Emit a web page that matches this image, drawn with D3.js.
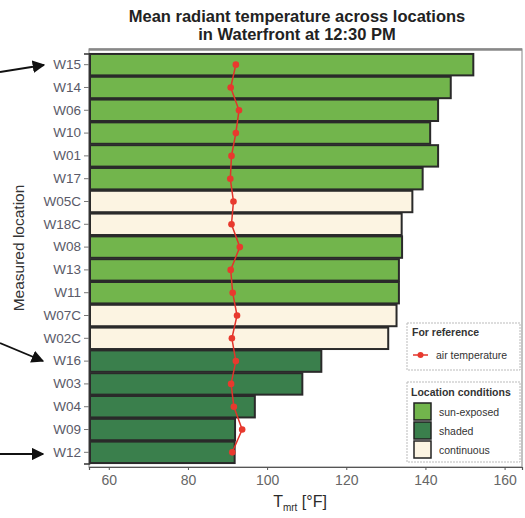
<!DOCTYPE html>
<html>
<head>
<meta charset="utf-8">
<script src="https://cdn.jsdelivr.net/npm/d3@7"></script>
<style>
  body { margin: 0; background: #fff; }
  text { font-family: "Liberation Sans", Arial, sans-serif; }
</style>
</head>
<body>
<svg id="chart"></svg>
<script>
var locations = ["W15", "W14", "W06", "W10", "W01", "W17", "W05C", "W18C", "W08",
                 "W13", "W11", "W07C", "W02C", "W16", "W03", "W04", "W09", "W12"];
var tmrt = [152.1, 146.4, 143.2, 141.2, 143.2, 139.3, 136.7, 134.0, 134.1,
            133.3, 133.3, 132.7, 130.6, 113.7, 108.9, 96.9, 91.9, 91.8];
var airTemp = [92.1, 90.8, 92.9, 92.1, 91.0, 90.7, 91.5, 91.0, 93.1,
               90.8, 91.3, 92.4, 91.1, 92.1, 90.9, 91.6, 93.7, 91.2];
var conditions = ["sun-exposed", "sun-exposed", "sun-exposed", "sun-exposed", "sun-exposed", "sun-exposed",
                  "continuous", "continuous", "sun-exposed", "sun-exposed", "sun-exposed",
                  "continuous", "continuous", "shaded", "shaded", "shaded", "shaded", "shaded"];
var conditionNames = ["sun-exposed", "shaded", "continuous"];
var xTicks = [60, 80, 100, 120, 140, 160];

var W = 525, H = 518;
var plotLeft = 89, plotRight = 522, plotTop = 49, plotBottom = 467;

var svg = d3.select("#chart").attr("width", W).attr("height", H);

var defs = svg.append("defs");
defs.append("marker").attr("id", "arrow")
  .attr("viewBox", "0 0 10 10").attr("refX", 9).attr("refY", 5)
  .attr("markerWidth", 7).attr("markerHeight", 7).attr("orient", "auto")
  .append("path").attr("d", "M0,0 L10,5 L0,10 z").attr("fill", "#111");

var x = d3.scaleLinear().domain([55, 164.4]).range([plotLeft, plotRight]);
var y = d3.scaleBand().domain(locations).range([53.5, 463.5]).paddingInner(0.06).paddingOuter(0.02);
var color = d3.scaleOrdinal().domain(conditionNames).range(["#72b54c", "#3a7f4c", "#fcf4e2"]);

var rows = locations.map(function (d, i) {
  return { name: d, tmrt: tmrt[i], air: airTemp[i], cond: conditions[i] };
});

// title
svg.append("text").attr("x", 297).attr("y", 22).attr("text-anchor", "middle")
  .attr("font-size", 16.5).attr("font-weight", "bold").attr("fill", "#222")
  .text("Mean radiant temperature across locations");
svg.append("text").attr("x", 297).attr("y", 40).attr("text-anchor", "middle")
  .attr("font-size", 16.5).attr("font-weight", "bold").attr("fill", "#222")
  .text("in Waterfront at 12:30 PM");

// plot frame
svg.append("rect").attr("x", plotLeft).attr("y", plotTop)
  .attr("width", plotRight - plotLeft).attr("height", plotBottom - plotTop)
  .attr("fill", "none").attr("stroke", "#999").attr("stroke-width", 1.2);
svg.append("line").attr("x1", plotLeft).attr("x2", plotRight).attr("y1", plotTop + 0.5).attr("y2", plotTop + 0.5)
  .attr("stroke", "#888").attr("stroke-width", 2.5);

// bars
svg.append("g").selectAll("rect").data(rows).enter().append("rect")
  .attr("x", x(55) + 1)
  .attr("y", function (d) { return y(d.name); })
  .attr("width", function (d) { return x(d.tmrt) - x(55) - 1; })
  .attr("height", y.bandwidth())
  .attr("fill", function (d) { return color(d.cond); })
  .attr("stroke", "#2a2a2a").attr("stroke-width", 2);

// air temperature line + markers
var line = d3.line()
  .x(function (d) { return x(d.air); })
  .y(function (d) { return y(d.name) + y.bandwidth() / 2; });
svg.append("path").datum(rows).attr("d", line)
  .attr("fill", "none").attr("stroke", "#e2332a").attr("stroke-width", 1.5);
svg.append("g").selectAll("circle").data(rows).enter().append("circle")
  .attr("cx", function (d) { return x(d.air); })
  .attr("cy", function (d) { return y(d.name) + y.bandwidth() / 2; })
  .attr("r", 3.3).attr("fill", "#e8392e");

// y axis
var yAxis = svg.append("g").attr("transform", "translate(" + plotLeft + ",0)")
  .call(d3.axisLeft(y).tickSize(5).tickPadding(3));
yAxis.select(".domain").attr("stroke", "#333").attr("stroke-width", 1.5);
yAxis.selectAll(".tick line").attr("stroke", "#777");
yAxis.selectAll(".tick text").attr("font-size", 13.5).attr("fill", "#5a5a68")
  .attr("font-family", "Liberation Sans, Arial, sans-serif");

// x axis
var xAxis = svg.append("g").attr("transform", "translate(0," + plotBottom + ")")
  .call(d3.axisBottom(x).tickValues(xTicks).tickSize(3).tickPadding(5));
xAxis.select(".domain").attr("stroke", "#555").attr("stroke-width", 1.2);
xAxis.selectAll(".tick line").attr("stroke", "#555");
xAxis.selectAll(".tick text").attr("font-size", 14).attr("fill", "#666")
  .attr("font-family", "Liberation Sans, Arial, sans-serif");

// axis titles
var xt = svg.append("text").attr("x", 300).attr("y", 507).attr("text-anchor", "middle")
  .attr("font-size", 16).attr("fill", "#2a2a2a");
xt.append("tspan").text("T");
xt.append("tspan").attr("font-size", 10).attr("dy", 4).text("mrt");
xt.append("tspan").attr("dy", -4).text(" [°F]");

svg.append("text").attr("transform", "translate(24,248) rotate(-90)")
  .attr("text-anchor", "middle").attr("font-size", 15.5).attr("fill", "#333")
  .text("Measured location");

// annotation arrows
var arrows = [
  [[0, 72], [44, 65]],
  [[0, 343], [43, 361]],
  [[0, 454], [43, 454]]
];
svg.append("g").selectAll("line").data(arrows).enter().append("line")
  .attr("x1", function (d) { return d[0][0]; }).attr("y1", function (d) { return d[0][1]; })
  .attr("x2", function (d) { return d[1][0]; }).attr("y2", function (d) { return d[1][1]; })
  .attr("stroke", "#111").attr("stroke-width", 1.8).attr("marker-end", "url(#arrow)");

// legend: reference
var lg1 = svg.append("g").attr("transform", "translate(407,323)");
lg1.append("rect").attr("width", 113).attr("height", 47).attr("fill", "#fff")
  .attr("stroke", "#bbb").attr("stroke-dasharray", "2,1");
lg1.append("text").attr("x", 5).attr("y", 13).attr("font-size", 10.5).attr("font-weight", "bold")
  .attr("fill", "#333").text("For reference");
lg1.append("line").attr("x1", 6).attr("x2", 21).attr("y1", 32).attr("y2", 32)
  .attr("stroke", "#e2332a").attr("stroke-width", 1.5);
lg1.append("circle").attr("cx", 13.5).attr("cy", 32).attr("r", 3).attr("fill", "#e8392e");
lg1.append("text").attr("x", 29).attr("y", 36).attr("font-size", 10.5).attr("fill", "#333")
  .text("air temperature");

// legend: conditions
var lg2 = svg.append("g").attr("transform", "translate(407,382)");
lg2.append("rect").attr("width", 113).attr("height", 80).attr("fill", "#fff")
  .attr("stroke", "#bbb").attr("stroke-dasharray", "2,1");
lg2.append("text").attr("x", 4).attr("y", 14).attr("font-size", 10.5).attr("font-weight", "bold")
  .attr("fill", "#333").text("Location conditions");
var items = lg2.selectAll("g.item").data(conditionNames).enter().append("g")
  .attr("class", "item")
  .attr("transform", function (d, i) { return "translate(7," + (21 + i * 19) + ")"; });
items.append("rect").attr("width", 17).attr("height", 17)
  .attr("fill", function (d) { return color(d); })
  .attr("stroke", "#222").attr("stroke-width", 1.5);
items.append("text").attr("x", 25).attr("y", 12.5).attr("font-size", 10.5).attr("fill", "#333")
  .text(function (d) { return d; });
</script>
</body>
</html>
